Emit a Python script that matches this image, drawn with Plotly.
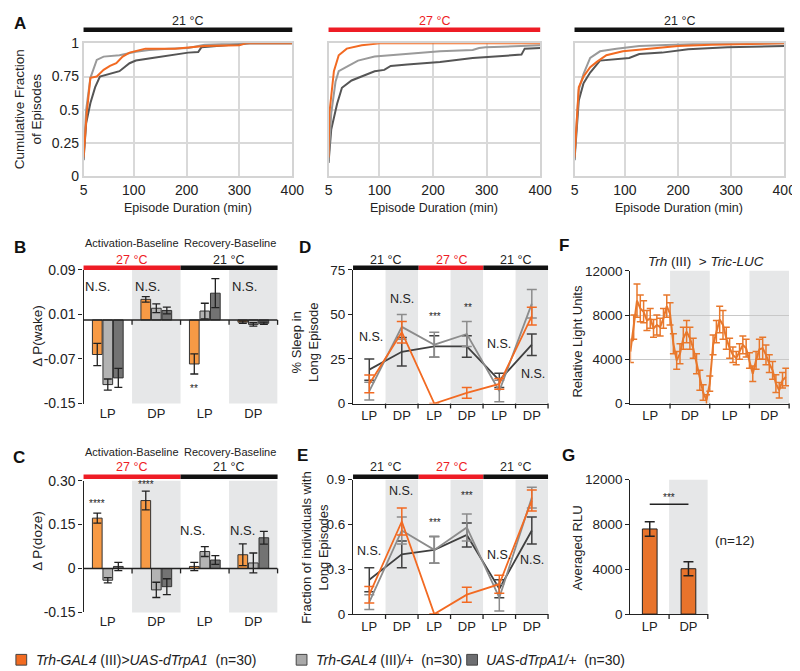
import plotly.graph_objects as go

W, H = 800, 671
FONT = "Arial, 'Liberation Sans', Helvetica, sans-serif"
RED = "#EE1C25"


def fx(p):
    return p / W


def fy(p):
    return 1 - p / H


# ---------------- DATA ----------------
legend_labels = ["<i>Trh-GAL4</i> (III)<i>&gt;UAS-dTrpA1</i>  (n=30)",
                 "<i>Trh-GAL4</i> (III)<i>/+</i>  (n=30)",
                 "<i>UAS-dTrpA1/+</i>  (n=30)"]

# Panel A: cumulative fraction of episodes (x = episode duration, min)
A_temps = ["21 °C", "27 °C", "21 °C"]
A_xticks = [5, 100, 200, 300, 400]
A_yticks = [0, 0.25, 0.5, 0.75, 1]

A1_or_x = [5, 11, 18, 30, 43, 55, 67, 79, 92, 104, 122, 178, 215, 234, 300, 312, 400]
A1_or_y = [0.14, 0.47, 0.74, 0.75, 0.80, 0.83, 0.85, 0.90, 0.93, 0.94, 0.96, 0.96, 0.97, 0.98, 0.985, 1.0, 1.0]
A1_lg_x = [5, 10, 18, 30, 43, 73, 104, 129, 166, 203, 234, 300, 400]
A1_lg_y = [0.14, 0.50, 0.74, 0.875, 0.90, 0.91, 0.936, 0.95, 0.96, 0.965, 0.99, 1.0, 1.0]
A1_dg_x = [5, 10, 18, 27, 36, 55, 73, 92, 104, 135, 166, 203, 222, 228, 240, 290, 320, 400]
A1_dg_y = [0.12, 0.40, 0.55, 0.67, 0.75, 0.77, 0.79, 0.85, 0.87, 0.89, 0.91, 0.93, 0.935, 0.97, 0.975, 0.99, 1.0, 1.0]

A2_or_x = [5, 6.5, 15, 24, 39, 67, 100, 400]
A2_or_y = [0.14, 0.47, 0.79, 0.91, 0.96, 0.985, 1.0, 1.0]
A2_lg_x = [5, 10, 18, 24, 42, 60, 91, 121, 152, 213, 274, 286, 298, 371, 400]
A2_lg_y = [0.12, 0.47, 0.71, 0.79, 0.83, 0.87, 0.90, 0.91, 0.92, 0.94, 0.95, 0.965, 0.97, 0.98, 0.985]
A2_dg_x = [5, 10, 21, 30, 48, 67, 91, 109, 121, 152, 213, 274, 304, 365, 371, 400]
A2_dg_y = [0.10, 0.35, 0.545, 0.665, 0.72, 0.75, 0.79, 0.80, 0.83, 0.84, 0.86, 0.89, 0.90, 0.915, 0.96, 0.965]

A3_or_x = [5, 13, 22, 34.5, 47, 65, 96, 139, 182, 200, 262, 400]
A3_or_y = [0.14, 0.67, 0.75, 0.82, 0.86, 0.91, 0.94, 0.955, 0.97, 0.98, 0.99, 1.0]
A3_lg_x = [5, 13, 22, 34.5, 53, 84, 127, 200, 262, 400]
A3_lg_y = [0.14, 0.65, 0.77, 0.89, 0.94, 0.96, 0.98, 0.99, 1.0, 1.0]
A3_dg_x = [5, 13, 22, 34.5, 53, 84, 108, 127, 170, 219, 293, 400]
A3_dg_y = [0.12, 0.57, 0.70, 0.78, 0.87, 0.88, 0.89, 0.92, 0.93, 0.955, 0.97, 0.98]

# Panels B, C: bar charts (categories LP, DP, LP, DP)
BC_cats = ["LP", "DP", "LP", "DP"]
B_yticks = [0.09, 0.01, -0.07, -0.15]
B_or = [-0.062, 0.037, -0.079, -0.004]
B_or_err = [0.020, 0.005, 0.018, 0.002]
B_lg = [-0.116, 0.021, 0.016, -0.008]
B_lg_err = [0.010, 0.008, 0.014, 0.003]
B_dg = [-0.104, 0.017, 0.048, -0.006]
B_dg_err = [0.017, 0.006, 0.026, 0.002]

C_yticks = [0.30, 0.15, 0, -0.15]
C_or = [0.172, 0.232, 0.007, 0.047]
C_or_err = [0.017, 0.032, 0.014, 0.037]
C_lg = [-0.040, -0.073, 0.058, 0.019]
C_lg_err = [0.009, 0.026, 0.017, 0.034]
C_dg = [0.007, -0.062, 0.029, 0.105]
C_dg_err = [0.014, 0.027, 0.015, 0.022]

# Panels D, E: line charts over six periods
DE_cats = ["LP", "DP", "LP", "DP", "LP", "DP"]
D_yticks = [0, 25, 50, 75]
D_or = [11, 40, 0, 6, 11, 49]
D_or_err = [5, 6, 0, 3, 3, 5]
D_lg = [7, 43, 33, 39, 7, 56]
D_lg_err = [5, 7, 7, 7, 6, 8]
D_dg = [19, 29, 32, 32, 13, 33]
D_dg_err = [6, 8, 6, 6, 4, 6]

E_yticks = [0, 0.3, 0.6, 0.9]
E_or = [0.13, 0.62, 0.0, 0.13, 0.20, 0.76]
E_or_err = [0.055, 0.09, 0.0, 0.05, 0.06, 0.07]
E_lg = [0.08, 0.56, 0.43, 0.58, 0.11, 0.78]
E_lg_err = [0.05, 0.09, 0.09, 0.09, 0.09, 0.07]
E_dg = [0.23, 0.40, 0.43, 0.53, 0.17, 0.56]
E_dg_err = [0.08, 0.09, 0.09, 0.08, 0.06, 0.09]

# Panel F: luciferase time course (hourly, 2 days)
F_cats = ["LP", "DP", "LP", "DP"]
F_yticks = [0, 4000, 8000, 12000]
F_rlu = [4700, 6900, 9300, 8600, 8300, 7500, 7700, 6800, 7100, 6900, 7700, 8800,
         8100, 5400, 3900, 4500, 5900, 6500, 5900, 5000, 3600, 2100, 1000, 300,
         1800, 5300, 6500, 7600, 7100, 5900, 5000, 4400, 4100, 4700, 5300, 5000,
         3900, 2700, 3900, 4900, 5000, 4400, 3600, 3000, 1800, 1200, 2100, 2400]
F_err = [1000, 1100, 1500, 1200, 1000, 900, 900, 800, 900, 800, 900, 1000,
         1000, 900, 800, 900, 1000, 1000, 1000, 900, 900, 900, 700, 500,
         700, 900, 1000, 1200, 1300, 1000, 900, 700, 600, 700, 800, 800,
         700, 700, 800, 900, 1000, 900, 800, 800, 800, 700, 700, 800]

# Panel G: averaged RLU
G_cats = ["LP", "DP"]
G_rlu = [7600, 4050]
G_err = [650, 620]

# ---------------- COLOURS ----------------
OR_LINE, LG_LINE, DG_LINE = "#F26A22", "#9A9A9A", "#555555"
OR_BAR, LG_BAR, DG_BAR = "#F79A45", "#B3B3B3", "#737373"
SHADE = "#E6E7E8"

fig = go.Figure()
shapes = []
anns = []


def ann(text, x, y, size=12, color="#222", xanchor="center", yanchor="middle", angle=0):
    anns.append(dict(text=text, x=fx(x), y=fy(y), xref="paper", yref="paper", showarrow=False,
                     font=dict(size=size, color=color, family=FONT), xanchor=xanchor,
                     yanchor=yanchor, textangle=angle))


def hbar(x0, x1, y, color, width=4.5):
    shapes.append(dict(type="line", xref="paper", yref="paper", x0=fx(x0), x1=fx(x1),
                       y0=fy(y), y1=fy(y), line=dict(color=color, width=width)))


# ---------------- PANEL A ----------------
A_data = [
    (A1_or_x, A1_or_y, A1_lg_x, A1_lg_y, A1_dg_x, A1_dg_y),
    (A2_or_x, A2_or_y, A2_lg_x, A2_lg_y, A2_dg_x, A2_dg_y),
    (A3_or_x, A3_or_y, A3_lg_x, A3_lg_y, A3_dg_x, A3_dg_y),
]
A_dom = [(73, 286), (323, 539), (574, 788)]
for i, (ox, oy, lx, ly, dxs, dys) in enumerate(A_data):
    n = "" if i == 0 else str(i + 1)
    xa, ya = "x" + n, "y" + n
    for xs, ys, c in [(dxs, dys, DG_LINE), (lx, ly, LG_LINE), (ox, oy, OR_LINE)]:
        fig.add_trace(go.Scatter(x=xs, y=ys, mode="lines", line=dict(color=c, width=2),
                                 xaxis=xa, yaxis=ya, showlegend=False, hoverinfo="skip"))
    a0, a1 = A_dom[i]
    fig.layout["xaxis" + n] = dict(domain=[fx(a0), fx(a1)], range=[5, 400], tickvals=A_xticks,
                                   showgrid=True, gridcolor="#D9D9D9", gridwidth=1.5,
                                   showline=True, linecolor="#D4D4D4", linewidth=1.5, mirror=True,
                                   zeroline=False, ticks="", anchor=ya, tickfont=dict(size=14))
    fig.layout["yaxis" + n] = dict(domain=[fy(164), fy(28)], range=[0, 1.0], tickvals=A_yticks,
                                   ticktext=["0", "0.25", "0.5", "0.75", "1"],
                                   showticklabels=(i == 0),
                                   showgrid=True, gridcolor="#D9D9D9", gridwidth=1.5,
                                   showline=True, linecolor="#D4D4D4", linewidth=1.5, mirror=True,
                                   zeroline=False, ticks="", anchor=xa, tickfont=dict(size=14))
    hbar(a0, a1, 14, RED if i == 1 else "#111")
    ann(A_temps[i], (a0 + a1) / 2, 5, size=12.5, color=RED if i == 1 else "#222")
    ann("Episode Duration (min)", (a0 + a1) / 2, 197, size=12.5)
ann("Cumulative Fraction<br>of Episodes", 17, 96, size=13.5, angle=-90)


# ---------------- PANELS B, C ----------------
def bar_panel(n, vals, top, bot, yr, yticks, yticktext, titley, temp_y, bar_y):
    xa, ya = "x" + n, "y" + n
    offs = [-0.217, 0.0, 0.217]
    for k, (v, e, c) in enumerate(vals):
        fig.add_trace(go.Bar(x=[j + offs[k] for j in range(4)], y=v, width=0.2,
                             marker=dict(color=c, line=dict(color="#333", width=1)),
                             error_y=dict(type="data", array=e, color="#222", thickness=1.3, width=4),
                             xaxis=xa, yaxis=ya, showlegend=False, hoverinfo="skip"))
    fig.layout["xaxis" + n] = dict(domain=[fx(73), fx(271)], range=[-0.5, 3.5], tickvals=[0, 1, 2, 3],
                                   ticktext=BC_cats, ticks="", showline=False, showgrid=False,
                                   zeroline=False, anchor=ya, tickfont=dict(size=13))
    fig.layout["yaxis" + n] = dict(domain=[fy(bot), fy(top)], range=yr, tickvals=yticks,
                                   ticktext=yticktext, ticks="outside", ticklen=4, tickcolor="#222",
                                   showline=True, linecolor="#222", linewidth=1.3, showgrid=False,
                                   zeroline=False, anchor=xa, tickfont=dict(size=14))
    for s in (1, 3):
        shapes.append(dict(type="rect", xref=xa, yref=ya + " domain", x0=s - 0.5, x1=s + 0.5,
                           y0=0, y1=1, fillcolor=SHADE, line=dict(width=0), layer="below"))
    shapes.append(dict(type="line", xref=xa, yref=ya, x0=-0.5, x1=3.5, y0=0, y1=0,
                       line=dict(color="#222", width=1.5)))
    span = yr[1] - yr[0]
    zero_frac = (0 - yr[0]) / span
    tick = 5 / (bot - top)
    for k in range(1, 5):
        shapes.append(dict(type="line", xref=xa + " domain", yref=ya + " domain", x0=k / 4, x1=k / 4,
                           y0=zero_frac, y1=zero_frac - tick, line=dict(color="#222", width=1.3)))
    hbar(73, 172, bar_y, RED)
    hbar(172, 271, bar_y, "#111")
    ann("Activation-Baseline", 122, titley, size=11)
    ann("Recovery-Baseline", 222, titley, size=11)
    ann("27 °C", 122, temp_y, size=12.5, color=RED)
    ann("21 °C", 221, temp_y, size=12.5)


bar_panel("4", [(B_or, B_or_err, OR_BAR), (B_lg, B_lg_err, LG_BAR), (B_dg, B_dg_err, DG_BAR)],
          260, 397, [-0.15, 0.09], B_yticks, ["0.09", "0.01", "-0.07", "-0.15"], 233, 250, 258)
bar_panel("5", [(C_or, C_or_err, OR_BAR), (C_lg, C_lg_err, LG_BAR), (C_dg, C_dg_err, DG_BAR)],
          476, 611, [-0.15, 0.30], C_yticks, ["0.30", "0.15", "0", "-0.15"], 447, 462, 472)
ann("Δ P(wake)", 26, 327, size=13.5, angle=-90)
ann("Δ P(doze)", 26, 538, size=13.5, angle=-90)
for t, x, y, s in [("N.S.", 87, 277, 13), ("N.S.", 138, 277, 13), ("N.S.", 237, 277, 13), ("**", 186, 382, 10),
                   ("****", 87, 499, 10), ("****", 137, 480, 10), ("N.S.", 184, 527, 13), ("N.S.", 235, 527, 13)]:
    ann(t, x, y, size=s)


# ---------------- PANELS D, E ----------------
def line_panel(n, series, top, bot, yr, yticks, yticktext, temp_y, bar_y):
    xa, ya = "x" + n, "y" + n
    xs = list(range(6))
    for v, e, c in series:
        fig.add_trace(go.Scatter(x=xs, y=v, mode="lines", line=dict(color=c, width=1.8),
                                 error_y=dict(type="data", array=e, color=c, thickness=1.5, width=5),
                                 xaxis=xa, yaxis=ya, showlegend=False, hoverinfo="skip", cliponaxis=False))
    fig.layout["xaxis" + n] = dict(domain=[fx(348), fx(547)], range=[-0.5, 5.5], tickvals=xs,
                                   ticktext=DE_cats, ticks="", showline=True, linecolor="#222",
                                   linewidth=1.3, showgrid=False, zeroline=False, anchor=ya,
                                   tickfont=dict(size=13))
    fig.layout["yaxis" + n] = dict(domain=[fy(bot), fy(top)], range=yr, tickvals=yticks,
                                   ticktext=yticktext, ticks="outside", ticklen=4, tickcolor="#222",
                                   showline=True, linecolor="#222", linewidth=1.3, showgrid=False,
                                   zeroline=False, anchor=xa, tickfont=dict(size=13.5))
    for s in (1, 3, 5):
        shapes.append(dict(type="rect", xref=xa, yref=ya + " domain", x0=s - 0.5, x1=s + 0.5,
                           y0=0, y1=1, fillcolor=SHADE, line=dict(width=0), layer="below"))
    tick = 5 / (bot - top)
    for k in range(1, 7):
        shapes.append(dict(type="line", xref=xa + " domain", yref=ya + " domain", x0=k / 6, x1=k / 6,
                           y0=0, y1=-tick, line=dict(color="#222", width=1.3)))
    hbar(348, 415, bar_y, "#111")
    hbar(415, 481, bar_y, RED)
    hbar(481, 547, bar_y, "#111")
    ann("21 °C", 381, temp_y, size=12.5)
    ann("27 °C", 448, temp_y, size=12.5, color=RED)
    ann("21 °C", 514, temp_y, size=12.5)


line_panel("6", [(D_dg, D_dg_err, "#404040"), (D_lg, D_lg_err, "#8C8C8C"), (D_or, D_or_err, OR_LINE)],
           260, 397, [0, 75], D_yticks, ["0", "25", "50", "75"], 250, 258)
line_panel("7", [(E_dg, E_dg_err, "#404040"), (E_lg, E_lg_err, "#8C8C8C"), (E_or, E_or_err, OR_LINE)],
           475, 612.7, [0, 0.9], E_yticks, ["0", "0.3", "0.6", "0.9"], 462, 472)
ann("% Sleep in<br>Long Episode", 299, 334, size=13, angle=-90)
ann("Fraction of individuals with<br>Long Episodes", 309, 545, size=13, angle=-90)
for t, x, y, s in [("N.S.", 366, 329, 12.5), ("N.S.", 398, 290, 12.5), ("***", 432, 308, 10), ("**", 465, 299, 10),
                   ("N.S.", 497, 336, 12.5), ("N.S.", 532, 367, 12.5),
                   ("N.S.", 364, 548, 12.5), ("N.S.", 397, 487, 12.5), ("***", 432, 519, 10), ("***", 464, 491, 10),
                   ("N.S.", 497, 552, 12.5), ("N.S.", 531, 557, 12.5)]:
    ann(t, x, y, size=s)

# ---------------- PANEL F ----------------
fig.add_trace(go.Scatter(x=list(range(len(F_rlu))), y=F_rlu, mode="lines",
                         line=dict(color="#E8782C", width=2),
                         error_y=dict(type="data", array=F_err, color="#E8782C", thickness=1.5, width=3.5),
                         xaxis="x8", yaxis="y8", showlegend=False, hoverinfo="skip", cliponaxis=False))
fig.layout["xaxis8"] = dict(domain=[fx(631), fx(793)], range=[0, 48], tickvals=[6, 18, 30, 42],
                            ticktext=F_cats, ticks="", showline=True, linecolor="#222", linewidth=1.3,
                            showgrid=False, zeroline=False, anchor="y8", tickfont=dict(size=13))
fig.layout["yaxis8"] = dict(domain=[fy(397), fy(261)], range=[0, 12000], tickvals=F_yticks,
                            ticktext=["0", "4000", "8000", "12000"], ticks="outside", ticklen=4,
                            tickcolor="#222", showline=True, linecolor="#222", linewidth=1.3,
                            showgrid=True, gridcolor="#C8C8C8", gridwidth=1.3, zeroline=False,
                            anchor="x8", tickfont=dict(size=13.5))
for s in (12, 36):
    shapes.append(dict(type="rect", xref="x8", yref="y8 domain", x0=s, x1=s + 12, y0=0, y1=1,
                       fillcolor=SHADE, line=dict(width=0), layer="below"))
for k in range(1, 5):
    shapes.append(dict(type="line", xref="x8 domain", yref="y8 domain", x0=k / 4, x1=k / 4,
                       y0=0, y1=-5 / 136, line=dict(color="#222", width=1.3)))
ann("<i>Trh</i> (III)  &gt; <i>Tric-LUC</i>", 708, 251, size=13.5)
ann("Relative Light Units", 577, 333, size=13, angle=-90)

# ---------------- PANEL G ----------------
fig.add_trace(go.Bar(x=[0, 1], y=G_rlu, width=0.38,
                     marker=dict(color="#E8732B", line=dict(color="#222", width=1)),
                     error_y=dict(type="data", array=G_err, color="#222", thickness=1.5, width=5),
                     xaxis="x9", yaxis="y9", showlegend=False, hoverinfo="skip"))
fig.layout["xaxis9"] = dict(domain=[fx(631), fx(710)], range=[-0.5, 1.5], tickvals=[0, 1],
                            ticktext=G_cats, ticks="", showline=True, linecolor="#222", linewidth=1.3,
                            showgrid=False, zeroline=False, anchor="y9", tickfont=dict(size=13))
fig.layout["yaxis9"] = dict(domain=[fy(612.7), fy(475)], range=[0, 12000], tickvals=F_yticks,
                            ticktext=["0", "4000", "8000", "12000"], ticks="outside", ticklen=4,
                            tickcolor="#222", showline=True, linecolor="#222", linewidth=1.3,
                            showgrid=False, zeroline=False, anchor="x9", tickfont=dict(size=13.5))
shapes.append(dict(type="rect", xref="x9", yref="y9 domain", x0=0.5, x1=1.5, y0=0, y1=1,
                   fillcolor=SHADE, line=dict(width=0), layer="below"))
for k in range(1, 3):
    shapes.append(dict(type="line", xref="x9 domain", yref="y9 domain", x0=k / 2, x1=k / 2,
                       y0=0, y1=-5 / 138, line=dict(color="#222", width=1.3)))
shapes.append(dict(type="line", xref="x9", yref="y9", x0=0, x1=1, y0=9800, y1=9800,
                   line=dict(color="#222", width=1.5)))
ann("***", 670, 493, size=10)
ann("(n=12)", 737, 537, size=13.5)
ann("Averaged RLU", 577, 545, size=13, angle=-90)

# ---------------- panel letters ----------------
for t, x, y in [("A", 8, 8), ("B", 8, 237), ("C", 7, 452), ("D", 299, 237), ("E", 296, 450),
                ("F", 563, 235), ("G", 568, 450)]:
    ann("<b>" + t + "</b>", x, y, size=17, color="#111")

# ---------------- legend ----------------
leg = [(4, 22, "#F26B21", legend_labels[0]), (290, 308, "#A9A9A9", legend_labels[1]),
       (464, 482, "#6D6E71", legend_labels[2])]
for sx, tx, c, t in leg:
    shapes.append(dict(type="rect", xref="paper", yref="paper", x0=fx(sx), x1=fx(sx + 11),
                       y0=fy(665), y1=fy(654), fillcolor=c, line=dict(color="#444", width=1)))
    ann(t, tx, 659.5, size=14, xanchor="left")

fig.update_layout(width=W, height=H, margin=dict(l=0, r=0, t=0, b=0),
                  paper_bgcolor="white", plot_bgcolor="white", barmode="overlay",
                  font=dict(family=FONT, color="#222", size=13),
                  shapes=shapes, annotations=anns, showlegend=False)

fig.write_html("out.html")
